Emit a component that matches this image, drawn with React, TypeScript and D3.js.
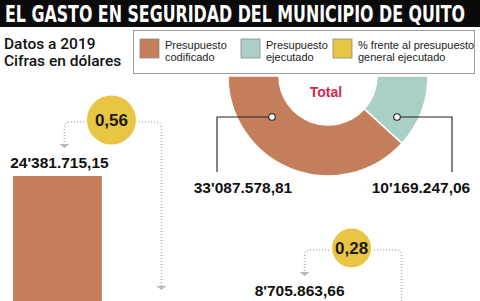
import { useLayoutEffect, useRef, useState } from "react";
import * as d3 from "d3";

// donut values
const donutLabels = ["Presupuesto ejecutado", "Presupuesto codificado"];
const donutValues = [10169247.06, 33087578.81];
const donutColors = ["#a9cfc7", "#c47e5b"];

// bars (budget per item) and the share circles
const barIds = ["a", "b"];
const barValues = [24381715.15, 8705863.66];
const shareValues = [0.56, 0.28];

// legend
const legendLines = [
    ["Presupuesto", "codificado"],
    ["Presupuesto", "ejecutado"],
    ["% frente al presupuesto", "general ejecutado"],
];
const legendColors = ["#c47e5b", "#a9cfc7", "#e8c543"];

const W = 480;
const H = 301;
const FONT = "'Liberation Sans', Arial, sans-serif";
const TITLE = "EL GASTO EN SEGURIDAD DEL MUNICIPIO DE QUITO";
const TITLE_WIDTH = 460;

const locale = d3.formatLocale({ decimal: ",", thousands: ".", grouping: [3], currency: ["", ""] });
const baseFmt = locale.format(",.2f");
const fmtMoney = (v: number) => {
    const s = baseFmt(v);
    return v >= 1e6 ? s.replace(".", "'") : s;
};
const fmtShare = locale.format(".2f");

const DottedArrow = ({ x0, y0, x1, y1 }: { x0: number; y0: number; x1: number; y1: number }) => {
    const r = 6;
    const dir = x1 > x0 ? 1 : -1;
    const p = d3.path();
    p.moveTo(x0, y0);
    p.lineTo(x1 - dir * r, y0);
    p.quadraticCurveTo(x1, y0, x1, y0 + r);
    p.lineTo(x1, y1 - 4);
    return (
        <g>
            <path d={p.toString()} fill="none" stroke="#b3b3b3" strokeWidth={1.6} strokeDasharray="1 2" />
            <path d={`M${x1 - 5},${y1 - 4}L${x1 + 5},${y1 - 4}L${x1},${y1}Z`} fill="#b8b8b8" />
        </g>
    );
};

export default function App() {
    const titleRef = useRef<SVGTextElement | null>(null);
    const [titleScale, setTitleScale] = useState(0.75);

    useLayoutEffect(() => {
        if (!titleRef.current) return;
        const len = titleRef.current.getComputedTextLength();
        if (len > 0) setTitleScale(TITLE_WIDTH / len);
    }, []);

    // donut
    const cx = 328;
    const cy = 76;
    const pie = d3
        .pie<number>()
        .sort(null)
        .startAngle(Math.PI / 2)
        .endAngle((3 * Math.PI) / 2)
        .value((d) => d);
    const arcs = pie(donutValues);
    const arc = d3.arc<d3.PieArcDatum<number>>().innerRadius(49).outerRadius(100);

    // annotation anchor points (dot offsets from donut center) and label columns
    const dotOffsets = [
        { dx: 69, dy: 41, lineX: 452, labelX: 421 },
        { dx: -56, dy: 41, lineX: 217, labelX: 243 },
    ];

    // bars
    const x = d3.scaleBand<string>().domain(barIds).range([13, 342]).paddingInner(0.63);
    const y = d3.scaleLinear().domain([0, barValues[0]]).range([375, 176]);
    const rScale = d3.scaleLinear().domain([0.28, 0.56]).range([19.5, 24.5]);

    return (
        <svg
            width={W}
            height={H}
            viewBox={`0 0 ${W} ${H}`}
            style={{ position: "fixed", left: 0, top: 0, background: "#fff" }}
            fontFamily={FONT}
        >
            {/* title bar */}
            <rect x={0} y={0} width={W} height={27} fill="#0a0a0a" />
            <g transform={`translate(5,22) scale(${titleScale},1)`}>
                <text
                    ref={titleRef}
                    x={0}
                    y={0}
                    fill="#fff"
                    fontFamily="'DejaVu Sans Condensed', 'DejaVu Sans', sans-serif"
                    fontStretch="condensed"
                    fontWeight="bold"
                    fontSize={23}
                >
                    {TITLE}
                </text>
            </g>

            {/* subtitle */}
            <text x={4} y={48.5} fontSize={15.5} fontWeight={500} fontFamily="Roboto, sans-serif" fill="#111">
                Datos a 2019
            </text>
            <text x={4} y={66} fontSize={15.5} fontWeight={500} fontFamily="Roboto, sans-serif" fill="#111">
                Cifras en dólares
            </text>

            {/* donut */}
            <g transform={`translate(${cx},${cy})`}>
                {arcs.map((a, i) => (
                    <path key={donutLabels[i]} d={arc(a) ?? ""} fill={donutColors[i]} stroke="#fff" strokeWidth={1.5} />
                ))}
                <text x={-2} y={21} textAnchor="middle" fontSize={14} fontWeight="bold" fill="#d8274a">
                    Total
                </text>
            </g>
            {donutValues.map((v, i) => {
                const o = dotOffsets[i];
                const px = cx + o.dx;
                const py = cy + o.dy;
                return (
                    <g key={donutLabels[i]}>
                        <path d={`M${px},${py}H${o.lineX}V172`} fill="none" stroke="#222" strokeWidth={1.1} />
                        <circle cx={px} cy={py} r={3.3} fill="#fff" stroke="#222" strokeWidth={1.1} />
                        <text x={o.labelX} y={193} textAnchor="middle" fontSize={15.5} fontWeight="bold" fill="#111">
                            {fmtMoney(v)}
                        </text>
                    </g>
                );
            })}

            {/* legend */}
            <rect x={133.5} y={30.5} width={341} height={43} fill="#fff" stroke="#9a9a9a" strokeWidth={1} />
            {legendLines.map((lines, i) => {
                const sx = [140, 241, 333][i];
                return (
                    <g key={i}>
                        <rect x={sx} y={39} width={19} height={19} fill={legendColors[i]} stroke="#8a8a8a" strokeWidth={0.8} />
                        <text x={sx + 25} y={49} fontSize={11} fill="#222">
                            {lines[0]}
                        </text>
                        <text x={sx + 25} y={61} fontSize={11} fill="#222">
                            {lines[1]}
                        </text>
                    </g>
                );
            })}

            {/* bars with share circles */}
            {barIds.map((id, i) => {
                const bx = x(id) ?? 0;
                const bw = x.bandwidth();
                const mid = bx + bw / 2;
                const top = y(barValues[i]);
                const base = top - 8;
                const r = rScale(shareValues[i]);
                const ccx = mid + 54;
                const ccy = base - 48;
                return (
                    <g key={id}>
                        <rect x={bx} y={top} width={bw} height={y(0) - top} fill="#c47e5b" />
                        <text x={mid + 2} y={base} textAnchor="middle" fontSize={15.5} fontWeight="bold" fill="#111">
                            {fmtMoney(barValues[i])}
                        </text>
                        <DottedArrow x0={ccx - r - 3} y0={ccy + 2} x1={mid + 7} y1={base - 20} />
                        <DottedArrow x0={ccx + r + 3} y0={ccy + 2} x1={ccx + 50} y1={base + 122} />
                        <circle cx={ccx} cy={ccy} r={r} fill="#e8c543" />
                        <text x={ccx} y={ccy + 6} textAnchor="middle" fontSize={17} fontWeight="bold" fill="#1a1a1a">
                            {fmtShare(shareValues[i])}
                        </text>
                    </g>
                );
            })}
        </svg>
    );
}
